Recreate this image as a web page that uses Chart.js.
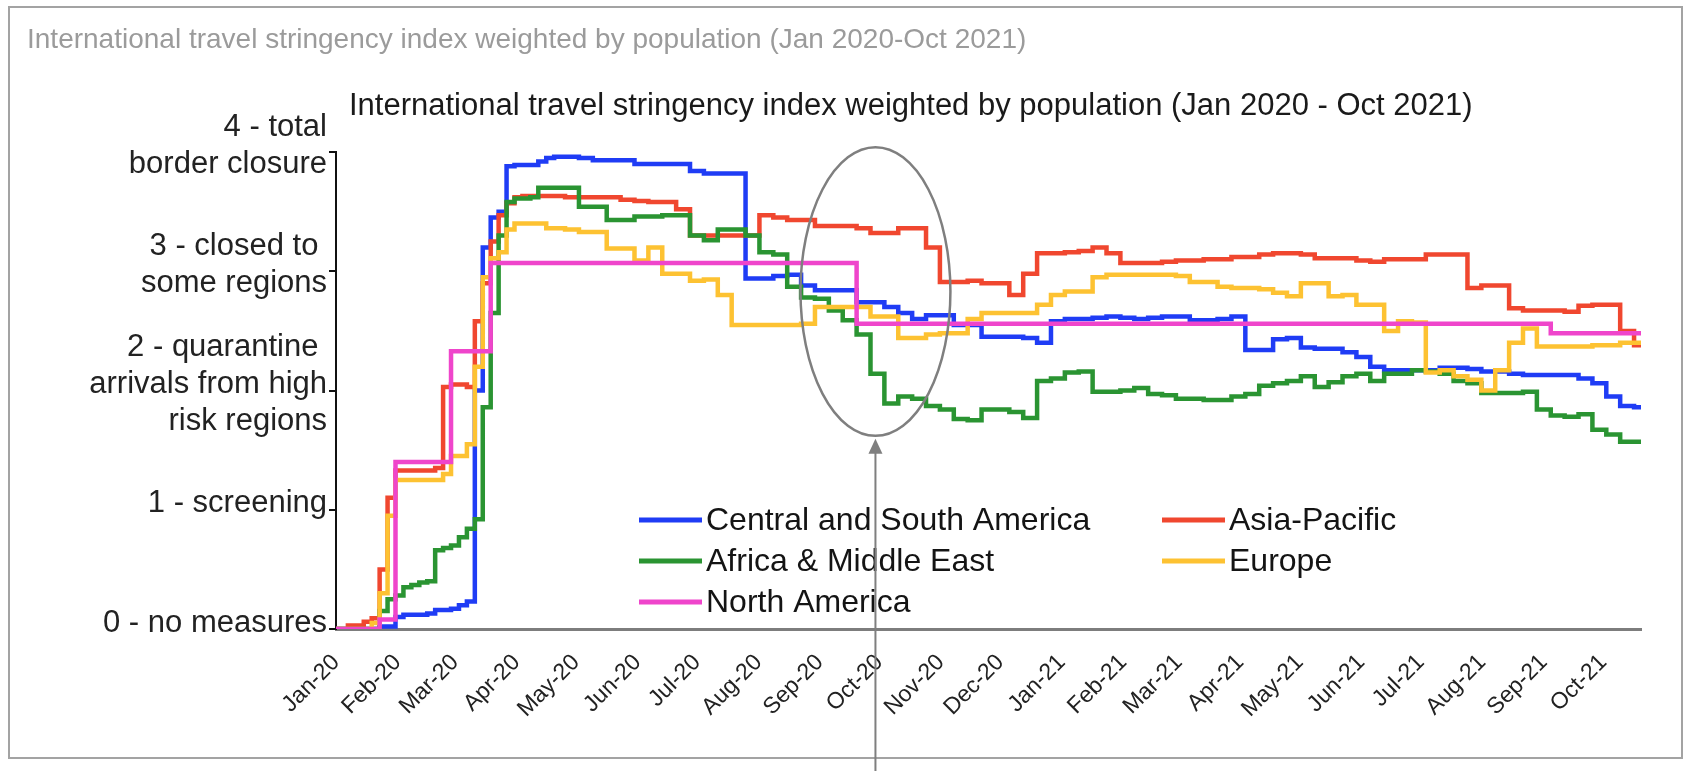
<!DOCTYPE html>
<html>
<head>
<meta charset="utf-8">
<title>International travel stringency index weighted by population</title>
<script src="https://cdn.jsdelivr.net/npm/chart.js@4.4.0/dist/chart.umd.min.js"></script>
<style>
  html, body { margin: 0; padding: 0; background: #ffffff; }
  #wrap { position: relative; width: 1698px; height: 771px; }
  canvas { display: block; }
</style>
</head>
<body>
<div id="wrap"><canvas id="chart" width="1698" height="771"></canvas></div>
<script>
// ---- titles ----
const outerTitle = 'International travel stringency index weighted by population (Jan 2020-Oct 2021)';
const chartTitle = 'International travel stringency index weighted by population (Jan 2020 - Oct 2021)';

// ---- x axis: sample days (days since 1 Jan 2020) ----
const sampleDays = [
  0, 4, 8, 12, 16, 20, 24, 28, 32, 36,
  40, 44, 48, 52, 56, 60, 64, 68, 72, 76,
  80, 84, 88, 92, 96, 100, 104, 108, 112,
  119, 126, 133, 140, 147, 154, 161, 168, 175, 182,
  189, 196, 203, 210, 217, 224, 231, 238, 245, 252,
  259, 266, 273, 280, 287, 294, 301, 308, 315, 322,
  329, 336, 343, 350, 357, 364, 371, 378, 385, 392,
  399, 406, 413, 420, 427, 434, 441, 448, 455, 462,
  469, 476, 483, 490, 497, 504, 511, 518, 525, 532,
  539, 546, 553, 560, 567, 574, 581, 588, 595, 602,
  609, 616, 623, 630, 637, 644, 651, 658
];

// month ticks: first day of each month (days since 1 Jan 2020) and their labels
const monthStartDays = [0, 31, 60, 91, 121, 152, 182, 213, 244, 274, 305, 335,
                        366, 397, 425, 456, 486, 517, 547, 578, 609, 639];
const monthLabels = ['Jan-20', 'Feb-20', 'Mar-20', 'Apr-20', 'May-20', 'Jun-20', 'Jul-20',
                     'Aug-20', 'Sep-20', 'Oct-20', 'Nov-20', 'Dec-20', 'Jan-21', 'Feb-21',
                     'Mar-21', 'Apr-21', 'May-21', 'Jun-21', 'Jul-21', 'Aug-21', 'Sep-21', 'Oct-21'];

// y axis level descriptions (index = stringency level)
const levelLabels = [
  ['0 - no measures'],
  ['1 - screening'],
  ['2 - quarantine ', 'arrivals from high', 'risk regions'],
  ['3 - closed to ', 'some regions'],
  ['4 - total', 'border closure']
];

// ---- series (index value at each sample day) ----
const centralSouthAmerica = [
  0, 0, 0, 0, 0, 0, 0.02, 0.02, 0.1, 0.12,
  0.12, 0.12, 0.13, 0.16, 0.16, 0.17, 0.2, 0.23, 2.0, 3.2,
  3.45, 3.5, 3.88, 3.89, 3.89, 3.89, 3.92, 3.95, 3.96,
  3.96, 3.95, 3.93, 3.93, 3.93, 3.9, 3.9, 3.9, 3.9, 3.84,
  3.82, 3.82, 3.82, 2.94, 2.94, 2.96, 2.97, 2.88, 2.84, 2.84,
  2.84, 2.74, 2.74, 2.7, 2.65, 2.6, 2.63, 2.63, 2.55, 2.55,
  2.45, 2.45, 2.45, 2.44, 2.4, 2.58, 2.6, 2.6, 2.61, 2.62,
  2.61, 2.6, 2.61, 2.62, 2.62, 2.59, 2.59, 2.6, 2.62, 2.34,
  2.34, 2.43, 2.44, 2.36, 2.35, 2.35, 2.32, 2.28, 2.2, 2.17,
  2.17, 2.17, 2.17, 2.19, 2.19, 2.18, 2.16, 2.16, 2.14, 2.13,
  2.13, 2.13, 2.13, 2.1, 2.06, 1.95, 1.87, 1.86
];
const asiaPacific = [
  0, 0, 0.03, 0.03, 0.06, 0.09, 0.5, 1.1, 1.33, 1.33,
  1.33, 1.33, 1.33, 1.35, 2.03, 2.05, 2.05, 2.03, 2.58, 2.9,
  3.25, 3.47, 3.57, 3.62, 3.63, 3.63, 3.63, 3.63, 3.63,
  3.62, 3.62, 3.62, 3.62, 3.6, 3.59, 3.58, 3.58, 3.52, 3.3,
  3.3, 3.3, 3.3, 3.3, 3.47, 3.45, 3.43, 3.43, 3.38, 3.38,
  3.38, 3.36, 3.32, 3.32, 3.36, 3.36, 3.2, 2.91, 2.91, 2.92,
  2.9, 2.9, 2.8, 2.98, 3.15, 3.15, 3.16, 3.17, 3.2, 3.15,
  3.07, 3.07, 3.07, 3.08, 3.09, 3.09, 3.1, 3.1, 3.12, 3.12,
  3.14, 3.15, 3.15, 3.14, 3.11, 3.11, 3.11, 3.09, 3.08, 3.1,
  3.1, 3.1, 3.14, 3.14, 3.14, 2.86, 2.88, 2.88, 2.69, 2.67,
  2.67, 2.67, 2.66, 2.71, 2.72, 2.72, 2.5, 2.38
];
const africaMiddleEast = [
  0, 0, 0, 0, 0, 0, 0.15, 0.25, 0.28, 0.35,
  0.37, 0.39, 0.4, 0.66, 0.68, 0.7, 0.77, 0.84, 0.92, 1.86,
  2.65, 3.3, 3.58, 3.61, 3.61, 3.62, 3.7, 3.7, 3.7,
  3.7, 3.54, 3.54, 3.43, 3.43, 3.46, 3.46, 3.47, 3.47, 3.3,
  3.26, 3.35, 3.35, 3.3, 3.16, 3.14, 2.87, 2.78, 2.77, 2.67,
  2.59, 2.47, 2.14, 1.89, 1.95, 1.93, 1.87, 1.84, 1.76, 1.75,
  1.84, 1.84, 1.82, 1.77, 2.08, 2.1, 2.15, 2.16, 1.99, 1.99,
  2.0, 2.02, 1.97, 1.96, 1.93, 1.93, 1.92, 1.92, 1.95, 1.97,
  2.04, 2.06, 2.08, 2.12, 2.03, 2.07, 2.12, 2.14, 2.08, 2.14,
  2.14, 2.17, 2.16, 2.14, 2.08, 2.06, 1.98, 1.98, 1.98, 1.99,
  1.84, 1.79, 1.78, 1.8, 1.67, 1.63, 1.57, 1.57
];
const europe = [
  0, 0, 0, 0, 0, 0.05, 0.3, 0.95, 1.25, 1.25,
  1.25, 1.25, 1.25, 1.25, 1.3, 1.45, 1.45, 1.55, 2.2, 2.95,
  3.11, 3.16, 3.35, 3.4, 3.4, 3.4, 3.4, 3.36, 3.36,
  3.35, 3.33, 3.33, 3.19, 3.19, 3.09, 3.2, 2.98, 2.98, 2.92,
  2.93, 2.8, 2.55, 2.55, 2.55, 2.55, 2.55, 2.56, 2.7, 2.7,
  2.7, 2.7, 2.62, 2.62, 2.44, 2.44, 2.47, 2.48, 2.48, 2.6,
  2.65, 2.65, 2.65, 2.65, 2.72, 2.8, 2.83, 2.83, 2.95, 2.97,
  2.97, 2.97, 2.97, 2.97, 2.96, 2.91, 2.91, 2.87, 2.86, 2.86,
  2.85, 2.82, 2.79, 2.9, 2.9, 2.79, 2.8, 2.72, 2.72, 2.5,
  2.58, 2.57, 2.15, 2.17, 2.12, 2.09, 2.0, 2.17, 2.4, 2.52,
  2.37, 2.37, 2.37, 2.37, 2.38, 2.38, 2.4, 2.4
];
const northAmerica = [
  0, 0, 0, 0, 0, 0, 0.08, 0.08, 1.4, 1.4,
  1.4, 1.4, 1.4, 1.4, 1.4, 2.33, 2.33, 2.33, 2.33, 2.33,
  3.07, 3.07, 3.07, 3.07, 3.07, 3.07, 3.07, 3.07, 3.07,
  3.07, 3.07, 3.07, 3.07, 3.07, 3.07, 3.07, 3.07, 3.07, 3.07,
  3.07, 3.07, 3.07, 3.07, 3.07, 3.07, 3.07, 3.07, 3.07, 3.07,
  3.07, 2.56, 2.56, 2.56, 2.56, 2.56, 2.56, 2.56, 2.56, 2.56,
  2.56, 2.56, 2.56, 2.56, 2.56, 2.56, 2.56, 2.56, 2.56, 2.56,
  2.56, 2.56, 2.56, 2.56, 2.56, 2.56, 2.56, 2.56, 2.56, 2.56,
  2.56, 2.56, 2.56, 2.56, 2.56, 2.56, 2.56, 2.56, 2.56, 2.56,
  2.56, 2.56, 2.56, 2.56, 2.56, 2.56, 2.56, 2.56, 2.56, 2.56,
  2.56, 2.48, 2.48, 2.48, 2.48, 2.48, 2.48, 2.48
];

// region names and line colours, in legend order
const regionNames = ['Central and South America', 'Asia-Pacific', 'Africa & Middle East', 'Europe', 'North America'];
const regionColors = ['#1f3cf5', '#f0472f', '#2a9432', '#fdc232', '#ef45cb'];
const regionValues = [centralSouthAmerica, asiaPacific, africaMiddleEast, europe, northAmerica];
// drawing order (lower = drawn on top)
const regionLayer = [4, 3, 2, 1, 0];

// highlighted period (ellipse) in data units: centre day / level and half-extents
const highlight = { day: 272, level: 2.83, halfDays: 37.8, halfLevels: 1.21 };

const FONT = '"Liberation Sans", Arial, Helvetica, sans-serif';

const datasets = regionNames.map((name, i) => ({
  label: name,
  data: sampleDays.map((d, k) => ({ x: d, y: regionValues[i][k] })),
  borderColor: regionColors[i],
  backgroundColor: regionColors[i],
  borderWidth: 4.5,
  pointRadius: 0,
  stepped: 'middle',
  fill: false,
  order: regionLayer[i]
}));

const decorations = {
  id: 'decorations',
  afterDraw(chart) {
    const { ctx } = chart;
    const xs = chart.scales.x, ys = chart.scales.y;
    ctx.save();

    // outer frame
    ctx.strokeStyle = '#a3a3a3';
    ctx.lineWidth = 2;
    ctx.strokeRect(9, 7, 1673, 751);

    // titles
    ctx.textAlign = 'left';
    ctx.textBaseline = 'middle';
    ctx.fillStyle = '#9b9b9b';
    ctx.font = '28px ' + FONT;
    ctx.fillText(outerTitle, 27, 40);
    ctx.fillStyle = '#1a1a1a';
    ctx.font = '31px ' + FONT;
    ctx.fillText(chartTitle, 349, 106);

    // legend: two columns, filled row by row
    const colX = [639, 1162];
    const rowY = [520, 561, 602];
    ctx.font = '32px ' + FONT;
    chart.data.datasets.forEach((ds, i) => {
      const lx = colX[i % 2];
      const ly = rowY[Math.floor(i / 2)];
      ctx.strokeStyle = ds.borderColor;
      ctx.lineWidth = 5;
      ctx.lineCap = 'butt';
      ctx.beginPath();
      ctx.moveTo(lx, ly);
      ctx.lineTo(lx + 63, ly);
      ctx.stroke();
      ctx.fillStyle = '#141414';
      ctx.fillText(ds.label, lx + 67, ly + 1);
    });

    // highlight ellipse
    const cx = xs.getPixelForValue(highlight.day);
    const cy = ys.getPixelForValue(highlight.level);
    const rx = xs.getPixelForValue(highlight.day + highlight.halfDays) - cx;
    const ry = cy - ys.getPixelForValue(highlight.level + highlight.halfLevels);
    ctx.strokeStyle = '#7f7f7f';
    ctx.lineWidth = 2.5;
    ctx.beginPath();
    ctx.ellipse(cx, cy, rx, ry, 0, 0, Math.PI * 2);
    ctx.stroke();

    // arrow pointing up at the ellipse
    const tipY = cy + ry + 3;
    ctx.lineWidth = 2;
    ctx.beginPath();
    ctx.moveTo(cx, chart.height);
    ctx.lineTo(cx, tipY + 10);
    ctx.stroke();
    ctx.fillStyle = '#7f7f7f';
    ctx.beginPath();
    ctx.moveTo(cx, tipY);
    ctx.lineTo(cx - 7, tipY + 15);
    ctx.lineTo(cx + 7, tipY + 15);
    ctx.closePath();
    ctx.fill();

    ctx.restore();
  }
};

new Chart(document.getElementById('chart'), {
  type: 'line',
  data: { datasets },
  options: {
    responsive: false,
    animation: false,
    events: [],
    layout: { autoPadding: false, padding: { top: 152, left: 0, right: 57, bottom: 0 } },
    plugins: {
      legend: { display: false },
      title: { display: false },
      tooltip: { enabled: false }
    },
    scales: {
      x: {
        type: 'linear',
        min: 0,
        max: 658,
        afterFit: s => { s.height = 142; },
        afterBuildTicks: s => { s.ticks = monthStartDays.map(v => ({ value: v })); },
        grid: { display: true, drawOnChartArea: false, drawTicks: false },
        border: { display: true, color: '#7d7d7d', width: 3 },
        ticks: {
          autoSkip: false,
          minRotation: 45,
          maxRotation: 45,
          padding: 20,
          color: '#222222',
          font: { family: FONT, size: 23 },
          callback: (v, i) => monthLabels[i]
        }
      },
      y: {
        min: 0,
        max: 4,
        afterFit: s => { s.width = 336; },
        grid: { display: true, drawOnChartArea: false, drawTicks: true, tickLength: 7, color: '#111', lineWidth: 2 },
        border: { display: true, color: '#111', width: 2 },
        ticks: {
          stepSize: 1,
          padding: 2,
          labelOffset: -6,
          color: '#222',
          font: { family: FONT, size: 31, lineHeight: 1.2 },
          callback: v => levelLabels[v]
        }
      }
    }
  },
  plugins: [decorations]
});
</script>
</body>
</html>
